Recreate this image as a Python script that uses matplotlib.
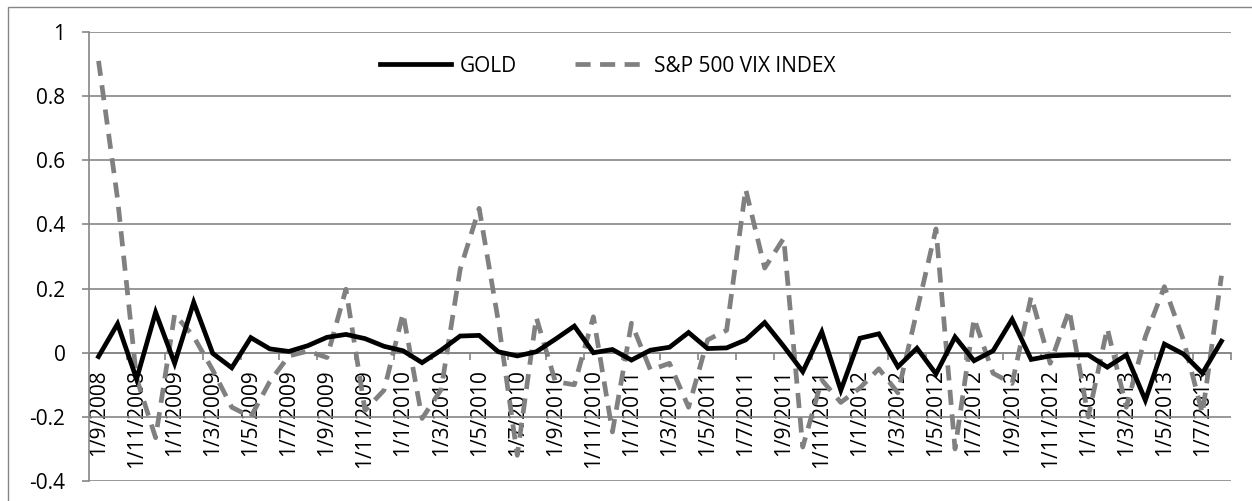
import matplotlib.pyplot as plt
from matplotlib.patches import Rectangle

# monthly returns, Sep 2008 .. Aug 2013
months = [f"1/{m}/{y}" for y in range(2008, 2014) for m in range(1, 13)]
months = months[8:68]

gold = [-0.012, 0.09, -0.082, 0.126, -0.033, 0.157, -0.002, -0.047, 0.047, 0.012,
        0.004, 0.022, 0.048, 0.057, 0.044, 0.02, 0.006, -0.031, 0.008, 0.052,
        0.054, 0.003, -0.01, 0.003, 0.042, 0.083, 0.0, 0.01, -0.023, 0.008,
        0.017, 0.063, 0.013, 0.015, 0.04, 0.094, 0.02, -0.059, 0.065, -0.117,
        0.045, 0.059, -0.044, 0.014, -0.066, 0.049, -0.025, 0.006, 0.104, -0.021,
        -0.01, -0.007, -0.007, -0.045, -0.007, -0.148, 0.027, -0.004, -0.064, 0.036]

vix = [0.91, 0.48, -0.08, -0.265, 0.12, 0.05, -0.054, -0.17, -0.2, -0.09,
       -0.01, 0.005, -0.015, 0.198, -0.18, -0.117, 0.123, -0.205, -0.115, 0.26,
       0.45, 0.1, -0.32, 0.11, -0.09, -0.1, 0.112, -0.247, 0.092, -0.054,
       -0.033, -0.17, 0.04, 0.07, 0.51, 0.264, 0.357, -0.294, -0.085, -0.155,
       -0.11, -0.05, -0.125, 0.13, 0.386, -0.3, 0.107, -0.064, -0.096, 0.175,
       -0.033, 0.133, -0.2, 0.076, -0.17, 0.05, 0.206, 0.04, -0.19, 0.24]

yticks = [-0.4, -0.2, 0, 0.2, 0.4, 0.6, 0.8, 1]
ytick_labels = ["-0.4", "-0.2", "0", "0.2", "0.4", "0.6", "0.8", "1"]

GRID = "#868686"
FS = 15
plt.rcParams["font.family"] = ["Open Sans", "DejaVu Sans"]

fig = plt.figure(figsize=(12.52, 5.01), dpi=100)
fig.patches.append(Rectangle((8 / 1252, -0.01), 1.0, 1 - 7 / 501 + 0.01,
                             transform=fig.transFigure, fill=False,
                             edgecolor=GRID, linewidth=1.0))
ax = fig.add_axes([89 / 1252, 1 - 481 / 501, (1231 - 89) / 1252, (481 - 32) / 501])

x = list(range(len(months)))
ax.plot(x, gold, color="black", linewidth=3.4, label="GOLD",
        solid_joinstyle="miter", zorder=4)
ax.plot(x, vix, color="#808080", linewidth=3.4, linestyle=(0, (3.2, 2.0)),
        label="S&P 500 VIX INDEX", zorder=3)

ax.set_xlim(-0.5, len(months) - 0.5)
ax.set_ylim(-0.4, 1)
ax.set_yticks(yticks)
ax.set_yticklabels(ytick_labels, fontsize=FS)
ax.yaxis.grid(True, color=GRID, linewidth=1.2)
ax.set_axisbelow(True)

for s in ["top", "right"]:
    ax.spines[s].set_visible(False)
ax.spines["left"].set_color(GRID)
ax.spines["left"].set_linewidth(1.2)
ax.spines["bottom"].set_position(("data", 0))
ax.spines["bottom"].set_color(GRID)
ax.spines["bottom"].set_linewidth(1.2)

# tick marks at category boundaries, labels every other month
ax.set_xticks([i - 0.5 for i in range(0, len(months) + 1, 2)])
ax.set_xticklabels([])
ax.set_xticks(x[::2], minor=True)
ax.set_xticklabels(months[::2], minor=True, rotation=90, fontsize=FS,
                   va="top", ha="center")
ax.tick_params(axis="x", which="major", direction="out", length=5,
               color=GRID, width=1.2)
ax.tick_params(axis="x", which="minor", length=0, pad=12)
ax.tick_params(axis="y", direction="out", length=5, color=GRID, width=1.2,
               pad=12)

ax.legend(loc="center", bbox_to_anchor=(608 / 1252, 1 - 66 / 501),
          bbox_transform=fig.transFigure, ncol=2, frameon=False, fontsize=FS,
          handlelength=3.4, handletextpad=0.4, columnspacing=2.8)

fig.savefig("out.png", dpi=100)
